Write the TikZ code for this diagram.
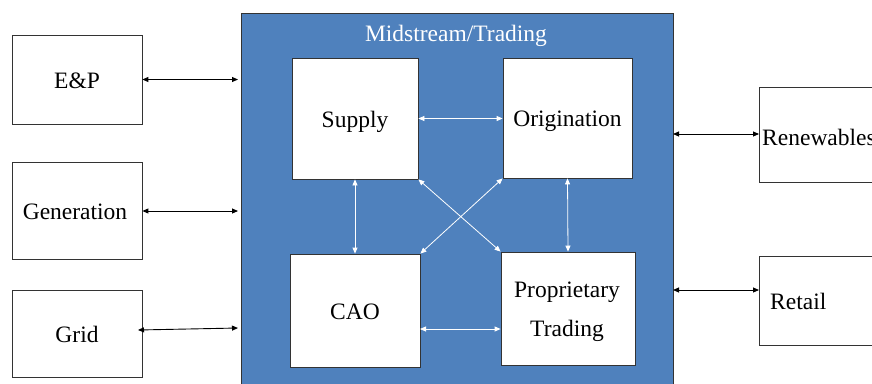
\documentclass[tikz,border=0pt]{standalone}
\usepackage{fontspec}
\setmainfont{Liberation Serif}
\usetikzlibrary{arrows.meta,calc}
\definecolor{midblue}{RGB}{79,129,189}
\begin{document}
\begin{tikzpicture}[x=1pt,y=-1pt,
  every node/.style={font=\rmfamily\fontsize{23.5}{28}\selectfont, inner sep=0pt},
  blk/.style={draw=black!80, line width=0.8pt, fill=white},
  bar/.style={{Triangle[length=6pt,width=5pt]}-{Triangle[length=6pt,width=5pt]}, line width=0.9pt, draw=black},
  wbar/.style={{Triangle[length=6pt,width=5pt]}-{Triangle[length=6pt,width=5pt]}, line width=0.8pt, draw=white}]
\useasboundingbox (0,0) rectangle (872,383);
\clip (0,0) rectangle (872,383);
% container
\node[draw=black!80, fill=midblue, line width=0.8pt, minimum width=432pt, minimum height=390pt, anchor=north west] (outer) at (241,13) {};
\node[text=white] (title) at (456,35.5) {Midstream/Trading};
% left boxes
\node[blk, minimum width=130pt, minimum height=89pt] (ep) at (77,79.5) {};
\node (eptxt) at (77,81) {E\&P};
\node[blk, minimum width=130pt, minimum height=97pt] (gen) at (77,210.5) {};
\node (gentxt) at (75,212) {Generation};
\node[blk, minimum width=130pt, minimum height=87pt] (grid) at (77,333.5) {};
\node (gridtxt) at (77,334.5) {Grid};
% right boxes
\node[blk, minimum width=130pt, minimum height=95pt, anchor=west] (ren) at (759,134.5) {};
\node[anchor=west] (rentxt) at (762,137) {Renewables};
\node[blk, minimum width=130pt, minimum height=89pt, anchor=west] (ret) at (759,300.5) {};
\node[anchor=west] (rettxt) at (770,301.5) {Retail};
% inner boxes
\node[blk, minimum width=126pt, minimum height=121pt] (sup) at (355,118.5) {};
\node (suptxt) at (355,122) {Supply};
\node[blk, minimum width=129pt, minimum height=120pt] (ori) at (567.5,118) {};
\node (oritxt) at (567.5,121) {Origination};
\node[blk, minimum width=130pt, minimum height=113pt] (cao) at (355,310.5) {};
\node (caotxt) at (355,312) {CAO};
\node[blk, minimum width=134pt, minimum height=113pt] (pro) at (568,308.5) {};
\node[align=center] (protxt) at (567,311.5) {Proprietary\\[11pt]Trading};
% outer connectors
\coordinate (epR) at (238,79.5);
\coordinate (genR) at (238,211);
\coordinate (gridL) at (138,330);
\coordinate (gridR) at (238,328);
\coordinate (renL) at (673,134);
\coordinate (retL) at (673,290);
\draw[bar] (ep.east) -- (epR);
\draw[bar] (gen.east |- genR) -- (genR);
\draw[bar] (gridL) -- (gridR);
\draw[bar] (renL) -- (renL -| ren.west);
\draw[bar] (retL) -- (retL -| ret.west);
% inner connectors
\coordinate (cp) at (420,329);
\draw[wbar] (sup.east) -- (sup.east -| ori.west);
\draw[wbar] (cp) -- (cp -| pro.west);
\draw[wbar] (sup.south) -- (cao.north);
\draw[wbar] (ori.south) -- (pro.north);
\draw[wbar] (sup.south east) -- (pro.north west);
\draw[wbar] (ori.south west) -- (cao.north east);
\end{tikzpicture}
\end{document}
